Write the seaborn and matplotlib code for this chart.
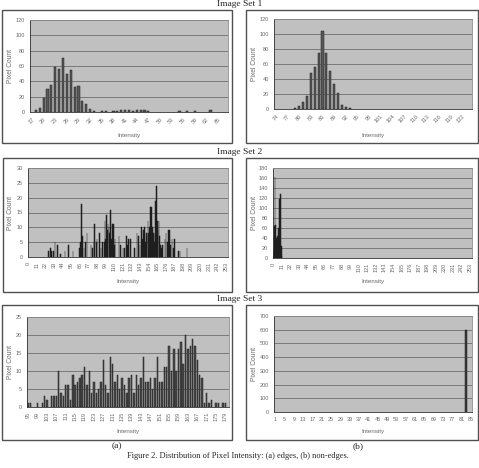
import matplotlib
matplotlib.use("Agg")
import matplotlib.pyplot as plt
from matplotlib.patches import Rectangle
import seaborn as sns

# ---- data (intensity bins with non-zero pixel counts) ----
# Image Set 1, edges
set1_edge_bins = list(range(17, 68))
set1_edge_int = [18, 19, 20, 21, 22, 23, 24, 25, 26, 27, 28, 29, 30, 31, 32, 33,
                 35, 36, 38, 39, 40, 41, 42, 43, 44, 45, 46, 47, 55, 57, 59, 63]
set1_edge_cnt = [2, 5, 18, 30, 35, 59, 56, 71, 49, 55, 33, 34, 14, 10, 4, 1,
                 1, 1, 1, 1, 2, 3, 2, 1, 2, 3, 2, 1, 1, 1, 1, 2]

# Image Set 1, non-edges
set1_non_bins = list(range(74, 125))
set1_non_int = [79, 80, 81, 82, 83, 84, 85, 86, 87, 88, 89, 90, 91, 92, 93]
set1_non_cnt = [1, 4, 9, 17, 48, 56, 75, 104, 75, 51, 34, 21, 6, 3, 1]

# Image Set 2, edges
set2_edge_bins = list(range(0, 256))
set2_edge_int = [26, 28, 30, 32, 34, 37, 41, 47, 51, 57, 65, 67, 68, 69, 71, 73, 75,
                 80, 82, 84, 85, 87, 88, 91, 93, 95, 97, 98, 99, 100, 101, 102, 103,
                 104, 105, 106, 107, 108, 109, 110, 111, 116, 118, 121, 123, 126, 127,
                 128, 131, 136, 139, 141, 143, 145, 146, 147, 149, 150, 151, 152, 153,
                 154, 155, 156, 157, 158, 159, 160, 161, 162, 163, 164, 165, 166, 167,
                 168, 169, 170, 172, 175, 176, 178, 179, 180, 181, 182, 184, 186, 187,
                 192, 194, 203]
set2_edge_cnt = [2, 3, 2, 2, 5, 4, 1, 2, 4, 2, 3, 5, 18, 7, 3, 5, 8,
                 4, 3, 5, 11, 5, 6, 8, 3, 5, 5, 12, 6, 14, 9, 11, 10,
                 8, 16, 6, 4, 11, 11, 4, 6, 7, 4, 3, 3, 7, 4,
                 6, 6, 3, 8, 7, 4, 10, 6, 9, 10, 5, 8, 7, 12,
                 8, 10, 17, 9, 17, 10, 8, 5, 8, 19, 24, 12, 9, 12,
                 7, 4, 3, 4, 6, 8, 5, 9, 4, 9, 4, 6, 3, 6,
                 2, 2, 3]

# Image Set 2, non-edges
set2_non_bins = list(range(0, 256))
set2_non_int = [0, 1, 2, 3, 4, 5, 6, 7, 8, 9, 10, 11]
set2_non_cnt = [15, 65, 162, 67, 40, 45, 15, 60, 117, 128, 25, 5]

# Image Set 3, edges
set3_edge_bins = list(range(95, 181))
set3_edge_int = [95, 96, 99, 101, 102, 103, 105, 106, 107, 108, 109, 110, 111, 112,
                 113, 114, 115, 116, 117, 118, 119, 120, 121, 122, 123, 124, 125,
                 126, 127, 128, 129, 130, 131, 132, 133, 134, 135, 136, 137, 138,
                 139, 140, 141, 142, 143, 144, 145, 146, 147, 148, 149, 150, 151,
                 152, 153, 154, 155, 156, 157, 158, 159, 160, 161, 162, 163, 164,
                 165, 166, 167, 168, 169, 170, 171, 172, 173, 175, 176, 178, 179]
set3_edge_cnt = [1, 1, 1, 1, 3, 2, 3, 3, 3, 10, 4, 3, 6, 6,
                 2, 9, 6, 7, 8, 9, 11, 6, 10, 4, 7, 4, 5,
                 7, 13, 6, 4, 14, 12, 7, 9, 5, 8, 6, 4, 8,
                 9, 4, 9, 6, 8, 14, 7, 7, 8, 5, 8, 14, 7,
                 7, 11, 11, 17, 10, 16, 10, 16, 18, 12, 20, 16, 17,
                 19, 17, 13, 9, 8, 1, 4, 1, 2, 1, 1, 1, 1]

# Image Set 3, non-edges
set3_non_bins = list(range(1, 86))
set3_non_int = [83]
set3_non_cnt = [600]

W, H = 479, 468

sns.set_style("white")
plt.rcParams['font.family'] = ['Liberation Sans', 'DejaVu Sans']

fig = plt.figure(figsize=(W / 100, H / 100), dpi=100)


def fig_rect(x0, y0, x1, y1):
    return [x0 / W, 1 - y1 / H, (x1 - x0) / W, (y1 - y0) / H]


def panel(frame, area, bins, ints, cnts, ymax, ystep, every, rot,
          bar_w, color, edge, ylab_x, xlab_y):
    x0, y0, x1, y1 = frame
    fig.add_artist(Rectangle((x0 / W, 1 - y1 / H), (x1 - x0) / W, (y1 - y0) / H,
                             transform=fig.transFigure, fill=False,
                             edgecolor='#505050', linewidth=1.0))
    ax = fig.add_axes(fig_rect(*area))
    order = [str(b) for b in bins]
    sns.barplot(x=[str(i) for i in ints], y=cnts, order=order, color=color,
                saturation=1, width=bar_w, edgecolor=edge, linewidth=0.35, ax=ax)
    ax.set_facecolor('#c0c0c0')
    ax.set_ylim(0, ymax)
    ax.set_yticks(range(0, ymax + 1, ystep))
    ax.yaxis.grid(True, color='#6e6e6e', linewidth=0.6)
    ax.set_axisbelow(True)
    ax.set_xticks(range(len(bins)))
    ax.set_xticklabels([str(b) if k % every == 0 else '' for k, b in enumerate(bins)])
    for s in ax.spines.values():
        s.set_color('#8a8a8a')
        s.set_linewidth(0.6)
    ax.spines['left'].set_color('#303030')
    ax.spines['bottom'].set_color('#303030')
    ax.tick_params(axis='x', direction='inout', length=4, width=0.8, color='#1a1a1a',
                   labelsize=4, labelcolor='#6a6a6a', pad=1.5)
    ax.tick_params(axis='y', direction='out', length=2, width=0.5, color='#303030',
                   labelsize=4, labelcolor='#6a6a6a', pad=1.5)
    if rot == 45:
        plt.setp(ax.get_xticklabels(), rotation=45, ha='right', rotation_mode='anchor')
    elif rot == 90:
        plt.setp(ax.get_xticklabels(), rotation=90, ha='center')
    ax.set_xlabel('Intensity', fontsize=4.5, color='#6a6a6a')
    ax.set_ylabel('Pixel Count', fontsize=4.8, color='#6a6a6a')
    ax0, ay0, ax1, ay1 = area
    ax.xaxis.set_label_coords(0.5, -(xlab_y - ay1) / (ay1 - ay0))
    ax.xaxis.label.set_va('center')
    ax.yaxis.set_label_coords((ylab_x - ax0) / (ax1 - ax0), 0.5)
    ax.yaxis.label.set_va('center')
    return ax


panel((2, 10, 232, 143), (30, 20, 228, 112), set1_edge_bins, set1_edge_int, set1_edge_cnt,
      120, 20, 3, 45, 0.55, '#585858', '#202020', 10, 135)
panel((246, 10, 478, 143), (274, 19, 472, 109), set1_non_bins, set1_non_int, set1_non_cnt,
      120, 20, 3, 45, 0.55, '#585858', '#202020', 255, 135)
panel((3, 158, 232, 292), (28, 168, 228, 257), set2_edge_bins, set2_edge_int, set2_edge_cnt,
      30, 5, 11, 90, 0.9, '#1e1e1e', '#1e1e1e', 10, 282)
panel((246, 158, 478, 292), (273, 168, 472, 258), set2_non_bins, set2_non_int, set2_non_cnt,
      180, 20, 11, 90, 0.9, '#1e1e1e', '#1e1e1e', 255, 282)
panel((2, 305, 232, 440), (27, 317, 229, 407), set3_edge_bins, set3_edge_int, set3_edge_cnt,
      25, 5, 4, 90, 0.6, '#4a4a4a', '#202020', 10, 432)
panel((246, 305, 478, 440), (274, 316, 472, 412), set3_non_bins, set3_non_int, set3_non_cnt,
      700, 100, 4, 0, 0.6, '#3a3a3a', '#202020', 255, 432)

serif = ['Liberation Serif', 'DejaVu Serif']
for txt, y in [('Image Set 1', 4), ('Image Set 2', 152), ('Image Set 3', 299)]:
    fig.text(240 / W, 1 - y / H, txt, ha='center', va='center', family=serif, fontsize=6.8)
fig.text(117 / W, 1 - 446 / H, '(a)', ha='center', va='center', family=serif, fontsize=6.8)
fig.text(358 / W, 1 - 446 / H, '(b)', ha='center', va='center', family=serif, fontsize=6.8)
fig.text(238 / W, 1 - 456 / H, 'Figure 2. Distribution of Pixel Intensity: (a) edges, (b) non-edges.',
         ha='center', va='center', family=serif, fontsize=6)

fig.savefig('out.png', dpi=100, facecolor='white')
